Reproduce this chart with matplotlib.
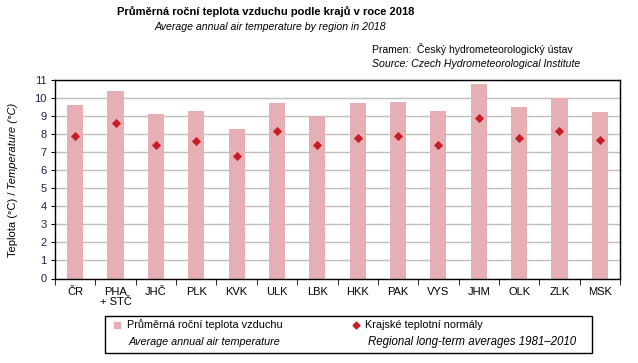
import matplotlib.pyplot as plt
from matplotlib.patches import Rectangle
from matplotlib.lines import Line2D
import numpy as np

plt.rcParams['font.family'] = ['Liberation Sans', 'DejaVu Sans']

# data
regions = ['ČR', 'PHA\n+ STČ', 'JHČ', 'PLK', 'KVK', 'ULK', 'LBK', 'HKK',
           'PAK', 'VYS', 'JHM', 'OLK', 'ZLK', 'MSK']
temp_2018 = [9.6, 10.4, 9.1, 9.3, 8.3, 9.7, 9.0, 9.7, 9.8, 9.3, 10.8, 9.5, 10.0, 9.2]
normals = [7.9, 8.6, 7.4, 7.6, 6.8, 8.2, 7.4, 7.8, 7.9, 7.4, 8.9, 7.8, 8.2, 7.7]

bar_color = '#E6AFB3'
dot_color = '#C41E28'
tick_color = '#1E1E46'

W, H = 638, 363
fig = plt.figure(figsize=(W / 100, H / 100), dpi=100)
ax = fig.add_axes([55 / W, 1 - 278.5 / H, 565 / W, 198.5 / H])

x = np.arange(len(regions))
ax.bar(x, temp_2018, width=0.4, color=bar_color, zorder=2)
ax.scatter(x, normals, marker='D', s=22, color=dot_color, zorder=3, linewidths=0)

ax.set_xlim(-0.5, len(regions) - 0.5)
ax.set_ylim(0, 11)
ax.set_yticks(range(0, 12))
ax.yaxis.grid(True, color='#BEBEBE', linewidth=1, zorder=0)
ax.tick_params(axis='y', labelsize=8, colors='black', labelcolor=tick_color, length=3, pad=3)

# category labels centred, tick marks between categories
ax.set_xticks(x)
ax.set_xticklabels(regions, fontsize=8, linespacing=1.0)
ax.tick_params(axis='x', length=0, pad=6)
ax.set_xticks(np.arange(-0.5, len(regions)), minor=True)
ax.tick_params(axis='x', which='minor', length=4, direction='out')

for s in ax.spines.values():
    s.set_linewidth(1)
    s.set_color('black')

# titles
fig.text(0.5 * (133 + 398) / W, 1 - 12 / H, 'Průměrná roční teplota vzduchu podle krajů v roce 2018',
         ha='center', va='center', fontsize=8, fontweight='bold')
fig.text(0.5 * (166 + 375) / W, 1 - 27 / H, 'Average annual air temperature by region in 2018',
         ha='center', va='center', fontsize=7.6, style='italic')
fig.text(372 / W, 1 - 49 / H, 'Pramen:  Český hydrometeorologický ústav',
         ha='left', va='center', fontsize=7.5)
fig.text(372 / W, 1 - 64 / H, 'Source: Czech Hydrometeorological Institute',
         ha='left', va='center', fontsize=7.6, style='italic')

# y label: normal + italic parts
fig.canvas.draw()
r = fig.canvas.get_renderer()
t1 = fig.text(13 / W, 0, 'Teplota (°C) / ', rotation=90, ha='center', va='bottom', fontsize=8)
t2 = fig.text(13 / W, 0, 'Temperature (°C)', rotation=90, ha='center', va='bottom',
              fontsize=8, style='italic')
h1 = t1.get_window_extent(r).height
h2 = t2.get_window_extent(r).height
y0 = (H - 180) - (h1 + h2) / 2
t1.set_y(y0 / H)
t2.set_y((y0 + h1) / H)

# legend box drawn by hand
fig.add_artist(Rectangle((105 / W, 1 - 353 / H), (592 - 105) / W, 37 / H,
                         transform=fig.transFigure, fill=False, edgecolor='black', linewidth=1))
fig.add_artist(Line2D([117 / W], [1 - 325 / H], marker='s', markersize=5, color=bar_color,
                      linestyle='none', transform=fig.transFigure))
fig.text(127 / W, 1 - 325 / H, 'Průměrná roční teplota vzduchu', ha='left', va='center', fontsize=7.8)
fig.text(129 / W, 1 - 342 / H, 'Average annual air temperature', ha='left', va='center',
         fontsize=7.8, style='italic')
fig.add_artist(Line2D([356 / W], [1 - 325 / H], marker='D', markersize=3.5, color=dot_color,
                      linestyle='none', transform=fig.transFigure))
fig.text(365 / W, 1 - 325 / H, 'Krajské teplotní normály', ha='left', va='center', fontsize=7.8)
fig.text(368 / W, 1 - 342 / H, 'Regional long-term averages 1981–2010', ha='left', va='center',
         fontsize=8.3, style='italic')

fig.savefig('out.png', dpi=100)
